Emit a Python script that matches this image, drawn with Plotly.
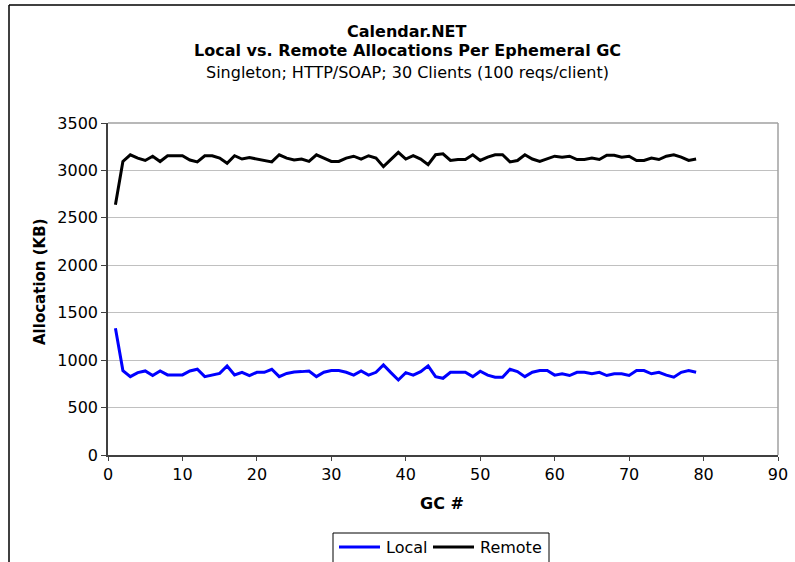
import plotly.graph_objects as go

gc = list(range(1, 80))
local = [1336, 890, 826, 868, 886, 837, 886, 844, 844, 844,
         886, 904, 826, 844, 860, 939, 844, 872, 837, 872,
         872, 904, 826, 860, 876, 879, 886, 826, 872, 890,
         890, 872, 842, 886, 842, 872, 949, 868, 791, 868,
         842, 879, 939, 826, 809, 872, 872, 872, 826, 883,
         842, 820, 820, 904, 879, 826, 872, 890, 890, 842,
         856, 838, 872, 872, 856, 872, 838, 856, 856, 838,
         890, 890, 856, 872, 842, 820, 872, 890, 872]
remote = [2637, 3094, 3165, 3130, 3105, 3150, 3094, 3155, 3155, 3155,
          3110, 3090, 3155, 3155, 3130, 3075, 3155, 3120, 3135, 3120,
          3105, 3090, 3165, 3130, 3110, 3120, 3095, 3165, 3130, 3095,
          3095, 3130, 3150, 3120, 3155, 3130, 3040, 3115, 3190, 3120,
          3155, 3120, 3060, 3165, 3175, 3105, 3115, 3115, 3165, 3105,
          3140, 3165, 3165, 3090, 3105, 3165, 3120, 3095, 3120, 3150,
          3140, 3150, 3115, 3115, 3130, 3115, 3160, 3160, 3140, 3150,
          3105, 3105, 3130, 3115, 3150, 3165, 3140, 3105, 3120]
series_names = ["Local", "Remote"]
series_colors = ["#0000ff", "#000000"]

FONT = "DejaVu Sans"
FS = 16
L, R, T, B = 108, 17, 123, 107
W, H = 795, 562
pw, ph = W - L - R, H - T - B


def px(p):
    return (p - L) / pw


def py(p):
    return (H - B - p) / ph


fig = go.Figure()
for name, vals, col in zip(series_names, [local, remote], series_colors):
    fig.add_trace(go.Scatter(x=gc, y=vals, mode="lines", name=name,
                             line=dict(color=col, width=3), showlegend=False))

fig.update_layout(
    width=W, height=H,
    margin=dict(l=L, r=R, t=T, b=B, autoexpand=False),
    paper_bgcolor="white", plot_bgcolor="white",
    font=dict(family=FONT, size=FS, color="#000000"),
    showlegend=False,
    xaxis=dict(range=[0, 90], tickvals=list(range(0, 91, 10)),
               showgrid=False, zeroline=False,
               showline=True, linecolor="#404040", linewidth=1.5,
               ticks="outside", ticklen=4, tickcolor="#404040",
               tickfont=dict(family=FONT, size=FS)),
    yaxis=dict(range=[0, 3500], tickvals=list(range(0, 3501, 500)),
               showgrid=True, gridcolor="#c0c0c0", gridwidth=1, zeroline=False,
               showline=True, linecolor="#404040", linewidth=1.5,
               ticks="outside", ticklen=5, tickcolor="#404040",
               tickfont=dict(family=FONT, size=FS)),
)

# plot area top/right border (gray)
fig.add_shape(type="line", xref="paper", yref="paper", x0=0, x1=1, y0=1, y1=1,
              line=dict(color="#a0a0a0", width=1.5))
fig.add_shape(type="line", xref="paper", yref="paper", x0=1, x1=1, y0=0, y1=1,
              line=dict(color="#a0a0a0", width=1.5))
# outer chart frame (left and top)
fig.add_shape(type="line", xref="paper", yref="paper", x0=px(9), x1=px(9), y0=py(H + 5), y1=py(5),
              line=dict(color="#000000", width=1.5))
fig.add_shape(type="line", xref="paper", yref="paper", x0=px(9), x1=px(W + 5), y0=py(5), y1=py(5),
              line=dict(color="#000000", width=1.5))

# titles
cx = px(407)
titles = [("<b>Calendar.NET</b>", 32),
          ("<b>Local vs. Remote Allocations Per Ephemeral GC</b>", 51),
          ("Singleton; HTTP/SOAP; 30 Clients (100 reqs/client)", 72)]
for txt, yy in titles:
    fig.add_annotation(text=txt, x=cx, y=py(yy), xref="paper", yref="paper",
                       showarrow=False, xanchor="center", yanchor="middle",
                       font=dict(family=FONT, size=FS))

# axis titles
fig.add_annotation(text="<b>GC #</b>", x=px(442), y=py(503), xref="paper", yref="paper",
                   showarrow=False, xanchor="center", yanchor="middle",
                   font=dict(family=FONT, size=FS))
fig.add_annotation(text="<b>Allocation (KB)</b>", x=px(40), y=py(282), xref="paper", yref="paper",
                   showarrow=False, xanchor="center", yanchor="middle", textangle=-90,
                   font=dict(family=FONT, size=FS - 1))

# legend box
fig.add_shape(type="rect", xref="paper", yref="paper", x0=px(333), x1=px(549),
              y0=py(575), y1=py(533), line=dict(color="#000000", width=1), fillcolor="white")
leg = [(339, 380, 384), (433, 474, 478)]
for (l0, l1, tx), name, col in zip(leg, series_names, series_colors):
    fig.add_shape(type="line", xref="paper", yref="paper", x0=px(l0), x1=px(l1),
                  y0=py(547), y1=py(547), line=dict(color=col, width=3))
    fig.add_annotation(text=name, x=px(tx), y=py(547), xref="paper", yref="paper",
                       showarrow=False, xanchor="left", yanchor="middle",
                       font=dict(family=FONT, size=FS))

fig.write_html("out.html")
